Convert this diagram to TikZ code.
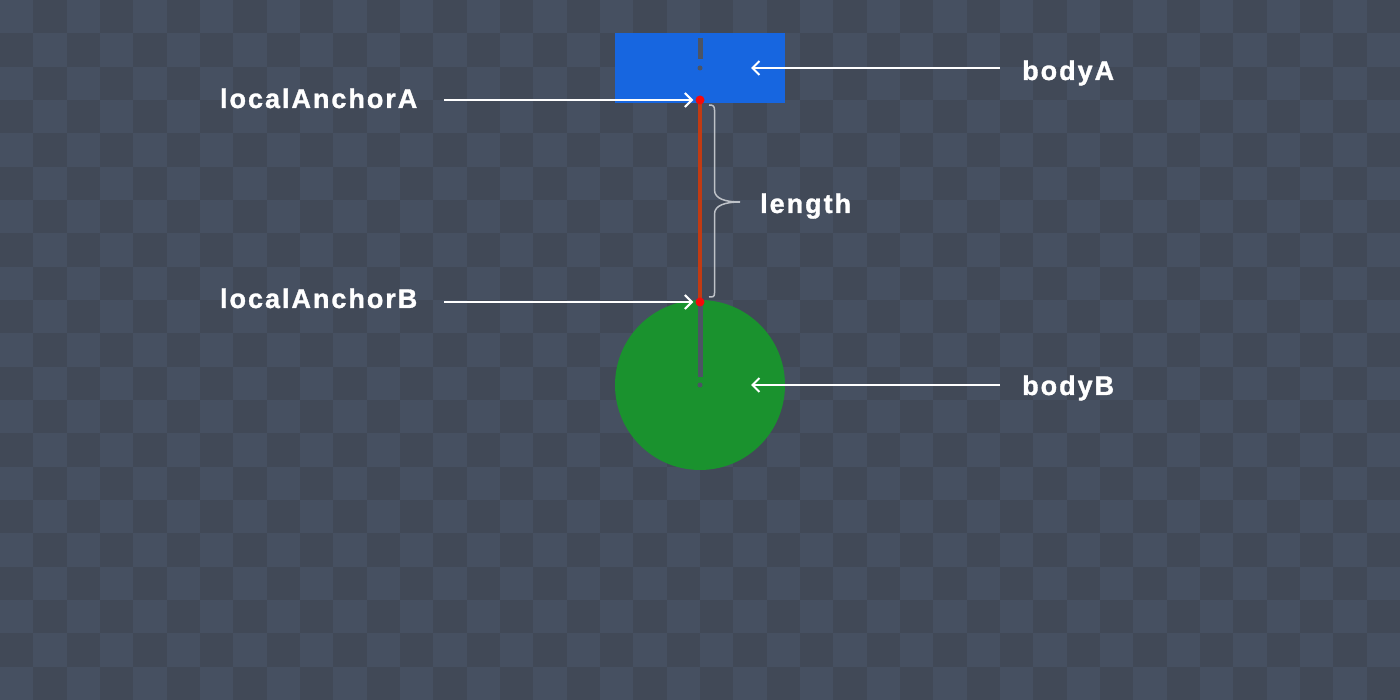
\documentclass[tikz,border=0pt]{standalone}
\usepackage{fontspec}
\newfontfamily\lblfont{Liberation Sans Bold}[LetterSpace=7.3, FakeBold=1.2]
\usetikzlibrary{arrows.meta}
\definecolor{bglight}{RGB}{70,80,97}
\definecolor{bgdark}{RGB}{65,73,87}
\definecolor{bodyblue}{RGB}{23,102,224}
\definecolor{bodygreen}{RGB}{26,146,46}
\definecolor{jointred}{RGB}{194,59,19}
\definecolor{dotred}{RGB}{245,10,10}
\definecolor{markgray}{RGB}{76,84,100}
\definecolor{bracegray}{RGB}{190,194,200}
\tikzset{
  lbl/.style={text=white, font=\lblfont\fontsize{27}{31}\selectfont, inner sep=0pt},
  arr/.style={white, line width=2pt, -{Straight Barb[length=7pt,width=14pt,line width=2pt]}},
  anchordot/.style={circle, fill=dotred, inner sep=0pt, minimum size=9pt},
  markline/.style={markgray, line width=5pt},
}
\begin{document}
\begin{tikzpicture}[x=1pt,y=-1pt]
\useasboundingbox (0,0) rectangle (1400,700);
% checkerboard
\fill[bgdark] (0,0) rectangle (1400,700);
\foreach \i in {0,...,41}{
  \foreach \j in {0,...,20}{
    \pgfmathparse{int(mod(\i+\j,2))}
    \ifnum\pgfmathresult=0
      \fill[bglight] ({\i*100/3},{\j*100/3}) rectangle ({(\i+1)*100/3},{(\j+1)*100/3});
    \fi
  }
}
% bodies
\node[fill=bodyblue, minimum width=170pt, minimum height=70pt, inner sep=0pt] (bodyA) at (700,68) {};
\node[circle, fill=bodygreen, minimum size=170pt, inner sep=0pt] (bodyB) at (700,385) {};
% body markers
\draw[markline] (700,38) -- (700,59);
\fill[markgray] (bodyA.center) circle (2.5pt);
\draw[markline] (700,302) -- (700,377);
\fill[markgray] (bodyB.center) circle (2.5pt);
% joint
\coordinate (ancApos) at (700,100);
\coordinate (ancBpos) at (700,302);
\draw[jointred, line width=3.5pt] (ancApos) -- (ancBpos);
\node[anchordot] (ancA) at (ancApos) {};
\node[anchordot] (ancB) at (ancBpos) {};
% brace
\draw[bracegray, line width=1.5pt]
  (709,105) .. controls (713,105) and (714.5,106) .. (714.5,110)
  -- (714.5,190) .. controls (714.5,199) and (726,202) .. (740,202)
  .. controls (726,202) and (714.5,205) .. (714.5,214)
  -- (714.5,293) .. controls (714.5,297) and (713,297) .. (709,297);
% labels
\node[lbl, anchor=base east] (labA) at (417.5,108) {localAnchorA};
\node[lbl, anchor=base east] (labB) at (417.5,308) {localAnchorB};
\node[lbl, anchor=base west] (labBodyA) at (1022,80) {bodyA};
\node[lbl, anchor=base west] (labBodyB) at (1022,395) {bodyB};
\node[lbl, anchor=base west] (labLen) at (760,213) {length};
% arrows
\coordinate (tailA) at (444,100);
\coordinate (tailB) at (444,302);
\coordinate (tailBodyA) at (1000,68);
\coordinate (tailBodyB) at (1000,385);
\coordinate (tipBodyA) at (751,68);
\coordinate (tipBodyB) at (751,385);
\draw[arr, shorten >=2pt] (tailA) -- (ancA);
\draw[arr, shorten >=2pt] (tailB) -- (ancB);
\draw[arr] (tailBodyA) -- (tipBodyA);
\draw[arr] (tailBodyB) -- (tipBodyB);
\end{tikzpicture}
\end{document}
